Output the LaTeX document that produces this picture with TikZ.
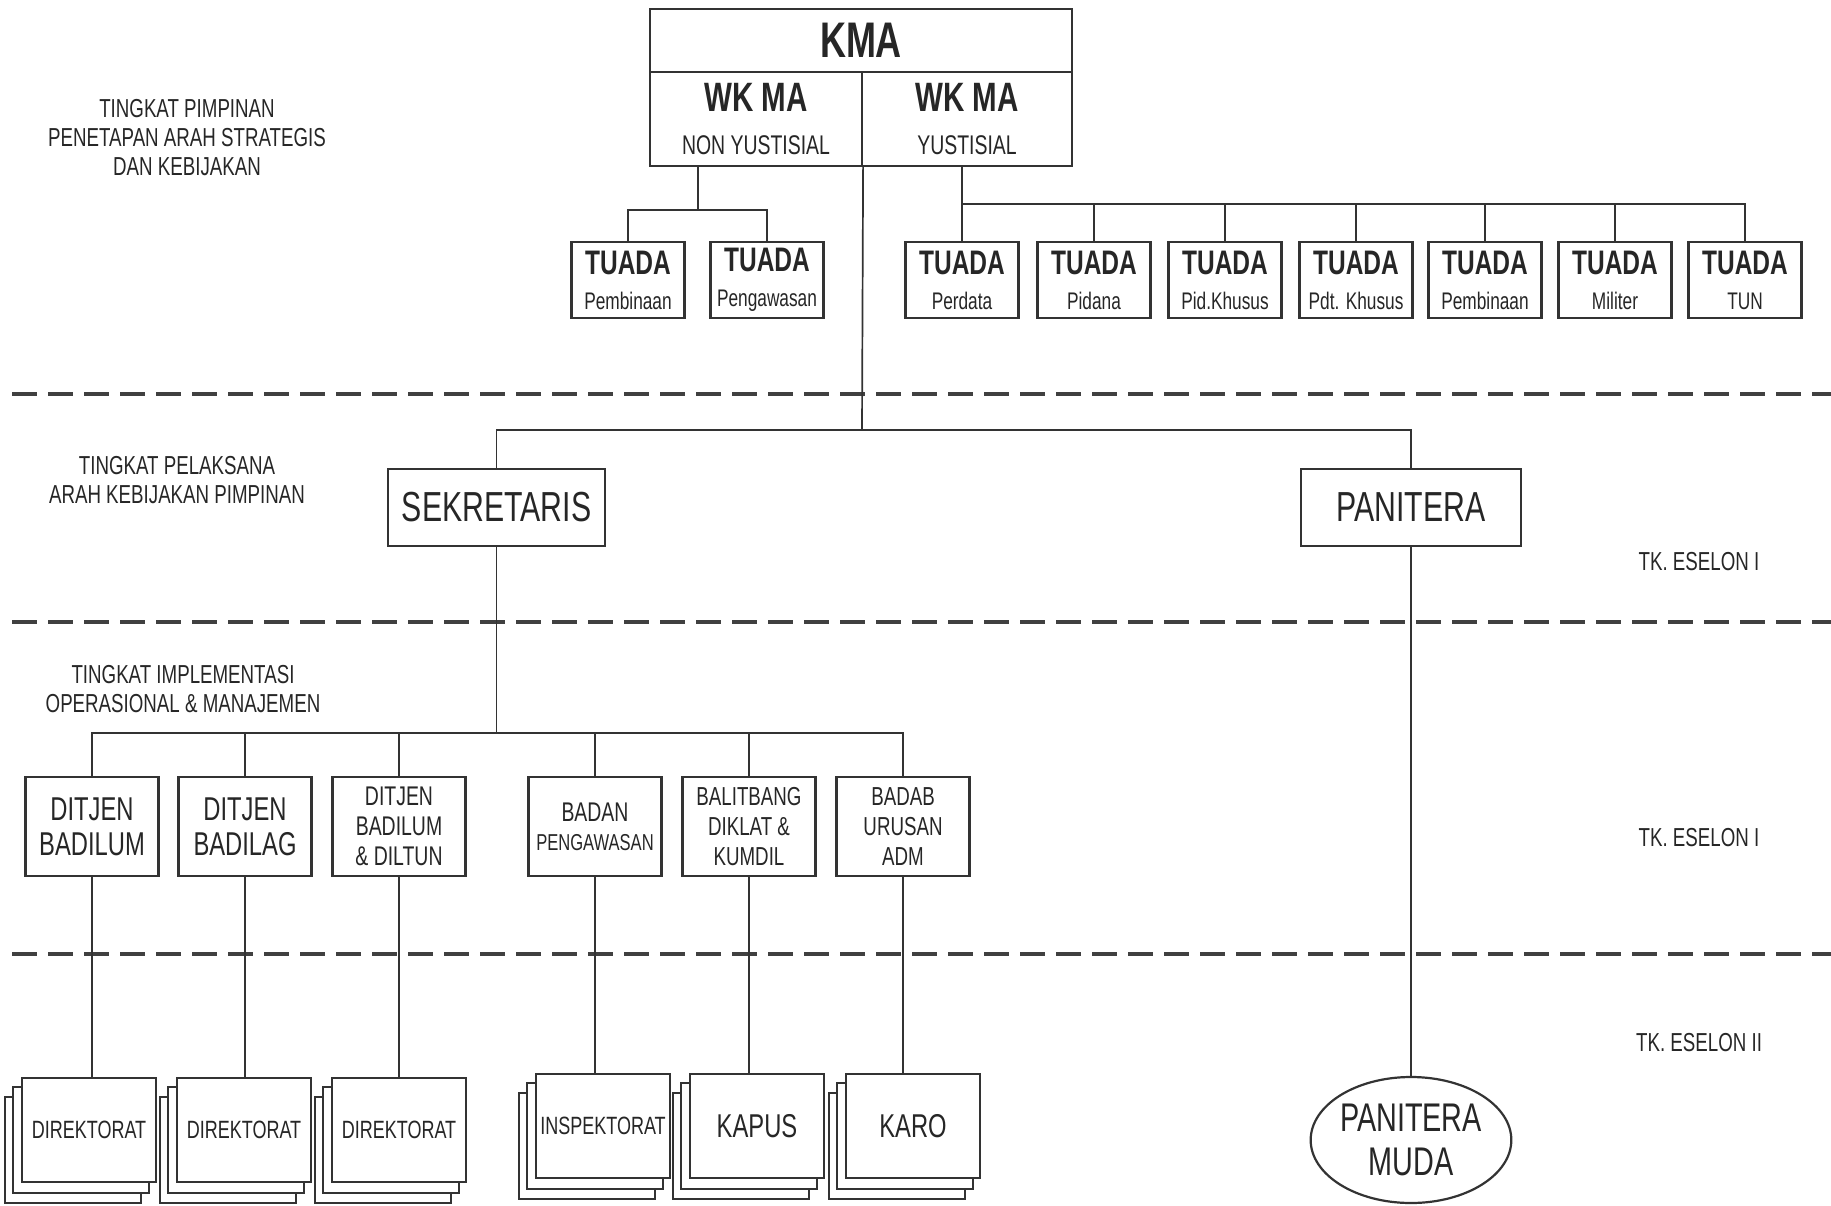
\documentclass[tikz,border=0pt]{standalone}
\usepackage{fontspec}
\setmainfont{Liberation Sans}[FakeStretch=0.72]
\usepackage{tikz}
\usetikzlibrary{positioning,shapes.geometric,backgrounds}
\newcommand{\fsz}[2]{\fontsize{#1}{#2}\selectfont}

\begin{document}
\begin{tikzpicture}[x=1pt, y=-1pt, every node/.style={text=black!85},
    outline/.style={draw=black!80, line width=2.2pt, fill=white},
    box/.style={outline, rectangle, align=center, inner sep=0pt},
    tuada/.style={box, minimum width=113pt, minimum height=76pt, font=\fsz{24}{35}},
    chief/.style={box, minimum height=77pt, font=\fsz{42}{46}},
    unit/.style={box, minimum width=133pt, minimum height=99pt},
    stackbox/.style={box, minimum width=134pt, minimum height=104pt},
    tier/.style={align=center, font=\fsz{26}{29}},
    conn/.style={draw=black!80, line width=1.7pt},
    divider/.style={draw=black!75, line width=3.5pt, dash pattern=on 25pt off 11pt}]
    \useasboundingbox (0,0) rectangle (1831,1205);
    % pimpinan
    \node[box, minimum width=422pt, minimum height=63pt, font=\fsz{50}{54}\bfseries] (kma) at (861,40.5) {KMA};
    \node[box, minimum width=212pt, minimum height=94pt, font=\fsz{27}{43}] (wknon) at (756,119) {{\fsz{41}{43}\bfseries WK MA}\\NON YUSTISIAL};
    \node[box, minimum width=210pt, minimum height=94pt, font=\fsz{27}{43}] (wkyus) at (967,119) {{\fsz{41}{43}\bfseries WK MA}\\YUSTISIAL};
    \node[tuada] (tpemb) at (628,280) {{\fsz{34}{36}\bfseries TUADA}\\Pembinaan};
    \node[tuada] (tpeng) at (767,280) {{\fsz{34}{36}\bfseries TUADA}\\Pengawasan};
    \node[tuada] (tperd) at (962,280) {{\fsz{34}{36}\bfseries TUADA}\\Perdata};
    \node[tuada] (tpid) at (1094,280) {{\fsz{34}{36}\bfseries TUADA}\\Pidana};
    \node[tuada] (tpidk) at (1225,280) {{\fsz{34}{36}\bfseries TUADA}\\Pid.Khusus};
    \node[tuada] (tpdtk) at (1356,280) {{\fsz{34}{36}\bfseries TUADA}\\Pdt. Khusus};
    \node[tuada] (tpbin) at (1485,280) {{\fsz{34}{36}\bfseries TUADA}\\Pembinaan};
    \node[tuada] (tmil) at (1615,280) {{\fsz{34}{36}\bfseries TUADA}\\Militer};
    \node[tuada] (ttun) at (1745,280) {{\fsz{34}{36}\bfseries TUADA}\\TUN};
    % pelaksana
    \node[chief, minimum width=217pt] (sek) at (496.5,507.5) {SEKRETARIS};
    \node[chief, minimum width=220pt] (pan) at (1411,507.5) {PANITERA};
    % implementasi
    \node[unit, font=\fsz{33}{35}] (dbadilum) at (92,826.5) {DITJEN\\BADILUM};
    \node[unit, font=\fsz{33}{35}] (dbadilag) at (245,826.5) {DITJEN\\BADILAG};
    \node[unit, font=\fsz{27}{30}] (ddiltun) at (399,826.5) {DITJEN\\BADILUM\\\& DILTUN};
    \node[unit, font=\fsz{23}{29}] (bawas) at (595,826.5) {{\fsz{27}{29}BADAN}\\PENGAWASAN};
    \node[unit, font=\fsz{26}{30}] (balit) at (749,826.5) {BALITBANG\\DIKLAT \&\\KUMDIL};
    \node[unit, font=\fsz{26}{30}] (badab) at (903,826.5) {BADAB\\URUSAN\\ADM};
    \node[stackbox, font=\fsz{25}{28}] (dir1) at (89,1130) {DIREKTORAT};
    \node[stackbox, font=\fsz{25}{28}] (dir2) at (244,1130) {DIREKTORAT};
    \node[stackbox, font=\fsz{25}{28}] (dir3) at (399,1130) {DIREKTORAT};
    \node[stackbox, font=\fsz{25}{28}] (insp) at (603,1126) {INSPEKTORAT};
    \node[stackbox, font=\fsz{33}{36}] (kapus) at (757,1126) {KAPUS};
    \node[stackbox, font=\fsz{33}{36}] (karo) at (913,1126) {KARO};
    \node[ellipse, outline, inner sep=0pt, minimum width=200pt, minimum height=126pt, align=center, font=\fsz{40}{44}] (pmuda) at (1411,1140) {PANITERA\\MUDA};
    \begin{scope}[on background layer]
    \foreach \n in {dir1,dir2,dir3,insp,kapus,karo}{
        \draw[outline] ([shift={(-16,20)}]\n.south west) rectangle ([shift={(-16,20)}]\n.north east);
        \draw[outline] ([shift={(-8,10)}]\n.south west) rectangle ([shift={(-8,10)}]\n.north east);
    }
    \end{scope}
    % level labels
    \node[tier] (lvlpimpin) at (187,138) {TINGKAT PIMPINAN\\PENETAPAN ARAH STRATEGIS\\DAN KEBIJAKAN};
    \node[tier] (lvlpelak) at (177,480) {TINGKAT PELAKSANA\\ARAH KEBIJAKAN PIMPINAN};
    \node[tier] (lvlimpl) at (183,689) {TINGKAT IMPLEMENTASI\\OPERASIONAL \& MANAJEMEN};
    \node[tier] (esl1) at (1699,562) {TK. ESELON I};
    \node[tier] (esl1b) at (1699,838) {TK. ESELON I};
    \node[tier] (esl2) at (1699,1043) {TK. ESELON II};
    % separators
    \draw[divider] (12,394) -- (1831,394);
    \draw[divider] (12,622) -- (1831,622);
    \draw[divider] (12,954) -- (1831,954);
    % connectors
    \coordinate (jnon) at (698,210);
    \coordinate (jyus) at (962,204);
    \coordinate (jmid) at (862,430);
    \coordinate (jsek) at (496.5,733);
    \draw[conn] (wknon.south -| jnon) -- (jnon);
    \draw[conn] (tpemb.north) |- (jnon) -| (tpeng.north);
    \draw[conn] (wkyus.south -| jyus) -- (jyus) -| (ttun.north);
    \foreach \n in {tperd,tpid,tpidk,tpdtk,tpbin,tmil}
        \draw[conn] (\n.north) -- (\n.north |- jyus);
    \draw[conn] (wknon.south east) -- (jmid);
    \draw[conn] (sek.north) |- (jmid) -| (pan.north);
    \draw[conn] (sek.south) -- (jsek);
    \draw[conn] (dbadilum.north) |- (jsek) -| (badab.north);
    \foreach \n in {dbadilag,ddiltun,bawas,balit}
        \draw[conn] (\n.north) -- (\n.north |- jsek);
    \foreach \a/\b in {dbadilum/dir1,dbadilag/dir2,ddiltun/dir3,bawas/insp,balit/kapus,badab/karo}
        \draw[conn] (\a.south) -- (\a.south |- \b.north);
    \draw[conn] (pan.south) -- (pmuda.north);
\end{tikzpicture}
\end{document}
